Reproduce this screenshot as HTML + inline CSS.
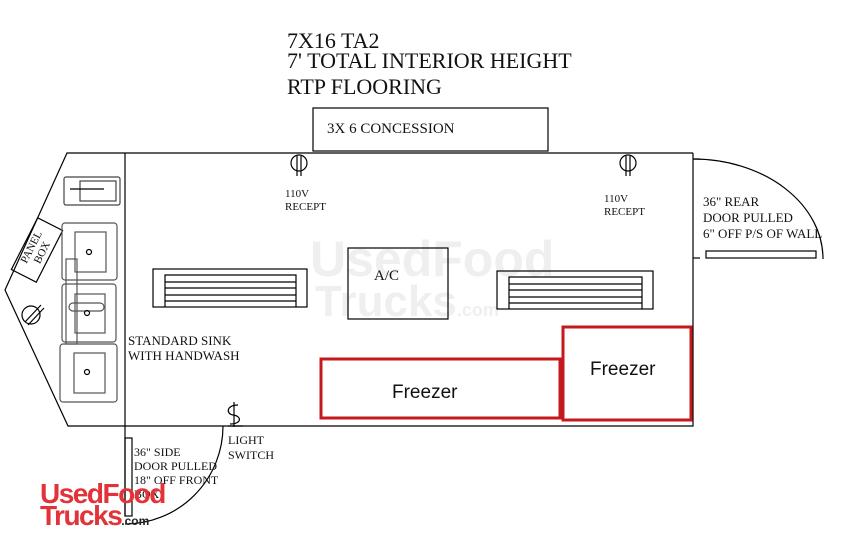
<!DOCTYPE html>
<html><head><style>
html,body{margin:0;padding:0;background:#fff;width:843px;height:544px;overflow:hidden}
svg{display:block}
text{font-family:"Liberation Serif",serif;fill:#111}
</style></head><body>
<svg width="843" height="544" viewBox="0 0 843 544" xmlns="http://www.w3.org/2000/svg">
<!-- watermark -->
<text x="310" y="276" font-weight="bold" font-size="50" style="fill:#efefef;font-family:'Liberation Sans',sans-serif">UsedFood</text>
<text x="315" y="316" font-weight="bold" font-size="44" style="fill:#efefef;font-family:'Liberation Sans',sans-serif">Trucks<tspan font-size="18">.com</tspan></text>

<text x="287" y="48" font-size="22">7X16 TA2</text>
<text x="287" y="68" font-size="22">7' TOTAL INTERIOR HEIGHT</text>
<text x="287" y="94" font-size="22">RTP FLOORING</text>

<g fill="none" stroke="#000" stroke-width="1.2">
<rect x="313" y="108" width="235" height="43"/>
<polyline points="693,153 67,153 5,290 68,426 693,426 693,153"/>
<line x1="125" y1="153" x2="125" y2="516"/>
<rect x="125" y="438" width="7" height="78"/>
<path d="M223,426 A98,98 0 0 1 125,524"/>
<line x1="693" y1="159" x2="700" y2="159"/>
<path d="M693,159 A130,100 0 0 1 823,259"/>
<line x1="693" y1="258" x2="700" y2="258"/>
<rect x="706" y="251" width="110" height="7"/>
<rect x="348" y="248" width="100" height="71"/>
<rect x="153" y="269" width="154" height="38"/>
<path d="M165,307 V275 H296 V307 M165,282 H296 M165,288 H296 M165,295 H296 M165,301 H296"/>
<rect x="497" y="271" width="156" height="38"/>
<path d="M509,309 V277 H642 V309 M509,284 H642 M509,290 H642 M509,297 H642 M509,303 H642"/>
<circle cx="299" cy="163" r="8"/><path d="M297,156 V176 M301,156 V176"/>
<circle cx="628" cy="163" r="8"/><path d="M626,156 V176 M630,156 V176"/>
<circle cx="31" cy="315" r="9"/><path d="M25,322 L41,305 M28,325 L44,308"/>
<path d="M238,405 C226,405 226,414 233,415 C242,416 242,424 230,424 M234,402 V427 M228,426 H243"/>
<g transform="translate(37,250) rotate(27)"><rect x="-14" y="-29" width="28" height="58"/></g>
<rect x="64" y="177" width="56" height="28" rx="2" stroke="#444"/>
<rect x="80" y="181" width="36" height="20" stroke="#444"/>
<line x1="70" y1="189" x2="104" y2="189"/>
<rect x="62" y="223" width="55" height="57" rx="3" stroke="#555"/>
<rect x="75" y="232" width="31" height="40" stroke="#555"/>
<rect x="62" y="284" width="54" height="58" rx="3" stroke="#555"/>
<rect x="75" y="294" width="30" height="39" stroke="#555"/>
<rect x="60" y="344" width="57" height="58" rx="3" stroke="#555"/>
<rect x="74" y="353" width="31" height="40" stroke="#555"/>
<rect x="66" y="259" width="11" height="85" stroke="#555"/>
<rect x="69" y="303" width="35" height="8" rx="4" stroke="#555"/>
<circle cx="89" cy="252" r="2.5"/><circle cx="87" cy="313" r="2.5"/><circle cx="87" cy="372" r="2.5"/>
</g>
<g transform="translate(37,250) rotate(-63)">
<text x="0" y="-3" font-size="11" text-anchor="middle">PANEL</text>
<text x="0" y="9" font-size="11" text-anchor="middle">BOX</text>
</g>
<g fill="none" stroke="#c41a1e" stroke-width="3">
<rect x="321" y="359" width="239" height="59"/>
<rect x="563" y="327" width="128" height="93"/>
</g>
<text x="392" y="398" font-size="19" style="font-family:'Liberation Sans',sans-serif">Freezer</text>
<text x="590" y="375" font-size="19" style="font-family:'Liberation Sans',sans-serif">Freezer</text>
<text x="374" y="280" font-size="15">A/C</text>
<text x="327" y="133" font-size="15">3X 6 CONCESSION</text>
<text x="285" y="197" font-size="11">110V</text>
<text x="285" y="210" font-size="11">RECEPT</text>
<text x="604" y="202" font-size="11">110V</text>
<text x="604" y="215" font-size="11">RECEPT</text>
<text x="703" y="206" font-size="13">36" REAR</text>
<text x="703" y="222" font-size="13">DOOR PULLED</text>
<text x="703" y="238" font-size="13">6" OFF P/S OF WALL</text>
<text x="128" y="345" font-size="13">STANDARD SINK</text>
<text x="128" y="360" font-size="13">WITH HANDWASH</text>
<text x="228" y="444" font-size="12">LIGHT</text>
<text x="228" y="459" font-size="12">SWITCH</text>
<text x="134" y="456" font-size="12">36" SIDE</text>
<text x="134" y="470" font-size="12">DOOR PULLED</text>
<text x="134" y="484" font-size="12">18" OFF FRONT</text>
<text x="134" y="498" font-size="12">BOX</text>
<text x="40" y="503" font-size="28" font-weight="bold" style="fill:#e2323a;font-family:'Liberation Sans',sans-serif;letter-spacing:-1.5px">UsedFood</text>
<text x="40" y="525" font-size="28" font-weight="bold" style="fill:#e2323a;font-family:'Liberation Sans',sans-serif;letter-spacing:-1.5px">Trucks<tspan font-size="12" style="fill:#222" letter-spacing="0">.com</tspan></text>
</svg>
</body></html>
